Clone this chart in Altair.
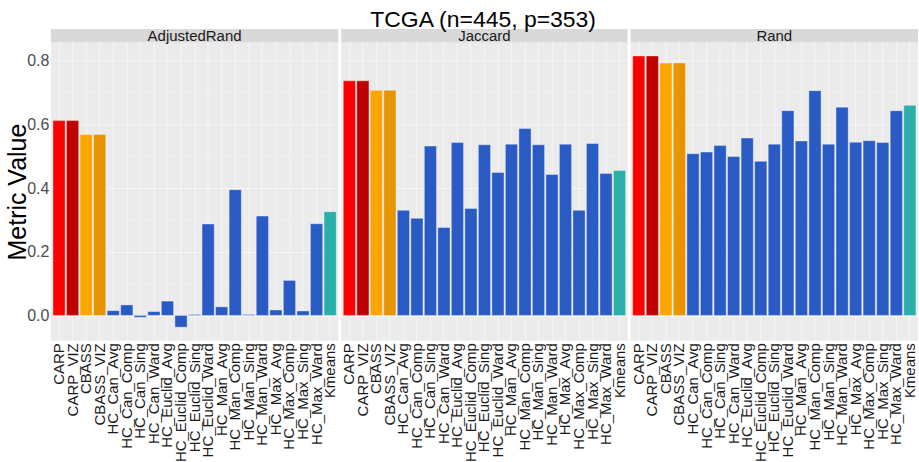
import altair as alt
import pandas as pd

# Clustering methods compared on each metric
methods = [
    "CARP", "CARP_VIZ", "CBASS", "CBASS_VIZ",
    "HC_Can_Avg", "HC_Can_Comp", "HC_Can_Sing", "HC_Can_Ward",
    "HC_Euclid_Avg", "HC_Euclid_Comp", "HC_Euclid_Sing", "HC_Euclid_Ward",
    "HC_Man_Avg", "HC_Man_Comp", "HC_Man_Sing", "HC_Man_Ward",
    "HC_Max_Avg", "HC_Max_Comp", "HC_Max_Sing", "HC_Max_Ward",
    "Kmeans",
]

adjusted_rand = [
    0.612, 0.612, 0.568, 0.568,
    0.015, 0.033, -0.006, 0.012,
    0.045, -0.037, 0.003, 0.287,
    0.027, 0.395, 0.003, 0.312,
    0.017, 0.110, 0.014, 0.288,
    0.326,
]
jaccard = [
    0.737, 0.737, 0.707, 0.707,
    0.330, 0.305, 0.532, 0.276,
    0.543, 0.336, 0.536, 0.449,
    0.538, 0.587, 0.536, 0.443,
    0.538, 0.330, 0.540, 0.446,
    0.455,
]
rand = [
    0.815, 0.815, 0.793, 0.793,
    0.508, 0.513, 0.534, 0.499,
    0.557, 0.484, 0.538, 0.643,
    0.548, 0.706, 0.538, 0.654,
    0.544, 0.549, 0.543, 0.643,
    0.660,
]

panel_names = ["AdjustedRand", "Jaccard", "Rand"]
panel_values = [adjusted_rand, jaccard, rand]

blue = "#2A5BC4"
method_colors = (
    ["#FF0000", "#BE0000", "#FFA500", "#E69500"]
    + [blue] * 16
    + ["#2BB0A9"]
)

y_major = [0.0, 0.2, 0.4, 0.6, 0.8]
y_minor = [0.1, 0.3, 0.5, 0.7]
y_domain = [-0.0796, 0.8576]

panel_widths = [288, 287, 288]
H = 299
STRIP = 13.5
FONT = "Liberation Sans"


def make_panel(name, values, w, first):
    df = pd.DataFrame({"method": methods, "value": values})

    x = alt.X(
        "method:N",
        sort=methods,
        scale=alt.Scale(paddingInner=0.1, paddingOuter=0.15),
        axis=alt.Axis(
            title=None, labelAngle=-90, labelFontSize=15, labelColor="#1A1A1A",
            labelPadding=2, ticks=False, domain=False, grid=True,
            gridColor="#FFFFFF", gridOpacity=0.55, gridWidth=1, labelLimit=300,
        ),
    )
    yscale = alt.Scale(domain=y_domain, nice=False, zero=False)
    yaxis = alt.Axis(
        values=y_major, format=".1f", ticks=False, domain=False,
        grid=True, gridColor="#FFFFFF", gridOpacity=0.6, gridWidth=1,
        labels=first, labelFontSize=16, labelColor="#4D4D4D", labelPadding=2,
        title="Metric Value" if first else None,
        titleFontSize=25, titleFontWeight="normal", titleColor="#000000",
        titleX=-25, titleY=H / 2, titleBaseline="alphabetic",
        titleAlign="center", titleAngle=270,
    )

    minor = alt.Chart(pd.DataFrame({"v": y_minor})).mark_rule(
        color="#FFFFFF", opacity=0.45, strokeWidth=0.7
    ).encode(
        y=alt.Y("v:Q", scale=yscale, axis=yaxis),
    )

    bars = alt.Chart(df).mark_bar(
        stroke="#FFFFFF", strokeOpacity=0.45, strokeWidth=0.8
    ).encode(
        x=x,
        y=alt.Y("value:Q", scale=yscale, axis=yaxis),
        color=alt.Color(
            "method:N", scale=alt.Scale(domain=methods, range=method_colors),
            legend=None,
        ),
    )

    strip_df = pd.DataFrame({"panel": [name]})
    strip = alt.Chart(strip_df).mark_rect(color="#D9D9D9").encode(
        x=alt.value(0), x2=alt.value(w),
        y=alt.value(-STRIP), y2=alt.value(0),
    )
    strip_text = alt.Chart(strip_df).mark_text(
        fontSize=15, color="#1A1A1A", baseline="middle", font=FONT
    ).encode(
        x=alt.value(w / 2), y=alt.value(-STRIP / 2 + 0.5), text="panel:N",
    )

    return alt.layer(minor, bars, strip, strip_text).properties(width=w, height=H)


panels = [
    make_panel(n, v, w, i == 0)
    for i, (n, v, w) in enumerate(zip(panel_names, panel_values, panel_widths))
]

chart = alt.hconcat(*panels, spacing=3, bounds="flush").properties(
    title=alt.TitleParams(
        "TCGA (n=445, p=353)", fontSize=23, fontWeight="normal",
        color="#000000", anchor="middle", font=FONT, offset=-3, dx=21,
    ),
    padding={"left": 6, "top": 8, "right": 0, "bottom": 0},
).configure(
    font=FONT,
).configure_view(
    fill="#EBEBEB", stroke=None,
).configure_axis(
    labelFont=FONT, titleFont=FONT,
)

chart.save("out.html", embed_options={"renderer": "svg", "actions": False})
